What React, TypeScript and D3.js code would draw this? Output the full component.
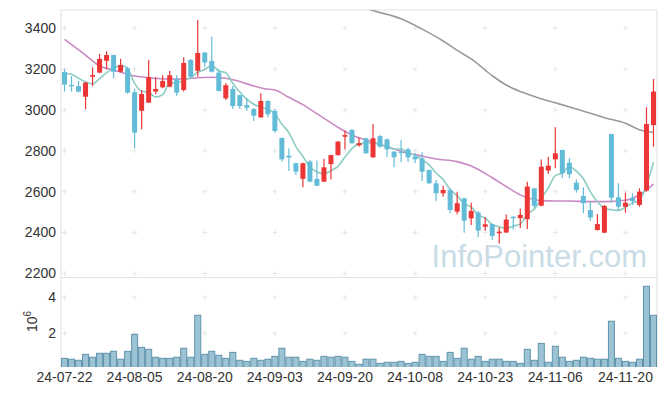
import React from "react";
import * as d3 from "d3";

// daily candles, 24-07-22 .. 24-11-26
const opens = [3186, 3123, 3117, 3065, 3163, 3183, 3241, 3269, 3187, 3204, 3087, 2996, 3036, 3090, 3111, 3114, 3152, 3098, 3245, 3192, 3281, 3240, 3183, 3057, 3103, 3073, 3024, 3005, 2964, 3044, 2995, 2863, 2776, 2739, 2663, 2747, 2662, 2649, 2735, 2779, 2869, 2902, 2827, 2861, 2768, 2872, 2856, 2796, 2796, 2807, 2772, 2763, 2706, 2641, 2592, 2608, 2502, 2567, 2469, 2498, 2428, 2441, 2396, 2400, 2477, 2470, 2465, 2616, 2531, 2703, 2758, 2804, 2742, 2644, 2579, 2510, 2412, 2399, 2882, 2572, 2526, 2570, 2535, 2605, 2926];
const highs = [3199, 3166, 3143, 3136, 3209, 3274, 3287, 3270, 3251, 3212, 3103, 3098, 3245, 3160, 3170, 3191, 3170, 3258, 3250, 3441, 3283, 3359, 3199, 3131, 3117, 3075, 3057, 3010, 3082, 3047, 3003, 2865, 2812, 2741, 2741, 2755, 2752, 2761, 2781, 2848, 2899, 2907, 2864, 2864, 2931, 2878, 2860, 2798, 2853, 2815, 2788, 2793, 2708, 2657, 2629, 2616, 2600, 2570, 2546, 2505, 2474, 2443, 2425, 2488, 2480, 2518, 2649, 2618, 2758, 2771, 2915, 2806, 2763, 2660, 2621, 2551, 2491, 2535, 2884, 2641, 2595, 2592, 2616, 3013, 3152];
const lows = [3091, 3091, 3085, 3003, 3117, 3180, 3199, 3155, 3184, 3080, 2812, 2905, 3034, 3077, 3106, 3111, 3070, 3091, 3160, 3163, 3212, 3183, 3090, 3049, 3005, 3005, 2996, 2946, 2962, 2964, 2889, 2747, 2701, 2681, 2621, 2646, 2627, 2647, 2660, 2777, 2807, 2835, 2820, 2786, 2766, 2815, 2770, 2719, 2745, 2745, 2739, 2652, 2637, 2554, 2575, 2494, 2489, 2399, 2437, 2376, 2409, 2363, 2345, 2397, 2415, 2422, 2417, 2518, 2529, 2686, 2714, 2665, 2665, 2595, 2494, 2456, 2410, 2397, 2546, 2505, 2497, 2535, 2526, 2600, 2820];
const closes = [3124, 3120, 3090, 3134, 3171, 3250, 3269, 3187, 3220, 3085, 2889, 3078, 3161, 3103, 3142, 3170, 3085, 3230, 3163, 3279, 3232, 3187, 3093, 3121, 3019, 3019, 3011, 2972, 3044, 2979, 2897, 2758, 2767, 2698, 2739, 2649, 2629, 2719, 2779, 2845, 2877, 2837, 2837, 2788, 2861, 2820, 2807, 2768, 2789, 2768, 2758, 2698, 2641, 2592, 2608, 2510, 2543, 2458, 2505, 2409, 2440, 2383, 2404, 2463, 2470, 2486, 2625, 2530, 2722, 2727, 2788, 2690, 2685, 2608, 2543, 2473, 2441, 2530, 2570, 2526, 2546, 2554, 2600, 2931, 3090];
// volume, millions of shares
const volumes = [0.61, 0.56, 0.5, 0.83, 0.67, 0.89, 0.89, 1.0, 0.56, 1.0, 1.94, 1.22, 1.11, 0.67, 0.61, 0.61, 0.67, 1.17, 0.67, 3.0, 0.83, 1.0, 0.78, 0.61, 0.94, 0.5, 0.44, 0.61, 0.5, 0.56, 0.72, 1.17, 0.67, 0.67, 0.44, 0.56, 0.5, 0.72, 0.67, 0.72, 0.67, 0.44, 0.28, 0.56, 0.56, 0.33, 0.39, 0.39, 0.44, 0.33, 0.39, 0.83, 0.72, 0.72, 0.44, 0.94, 0.61, 1.17, 0.56, 0.72, 0.44, 0.56, 0.56, 0.44, 0.44, 0.33, 1.11, 0.5, 1.44, 0.39, 1.28, 0.67, 0.44, 0.5, 0.67, 0.61, 0.56, 0.56, 2.67, 0.61, 0.44, 0.39, 0.56, 4.61, 3.0];

// moving averages
const ma5 = [3180, 3175, 3155, 3138, 3128, 3153, 3183, 3202, 3219, 3202, 3130, 3092, 3087, 3063, 3075, 3131, 3132, 3146, 3158, 3185, 3198, 3218, 3191, 3182, 3130, 3088, 3053, 3028, 3013, 3005, 2981, 2930, 2889, 2820, 2772, 2722, 2696, 2687, 2703, 2724, 2770, 2811, 2835, 2837, 2840, 2829, 2823, 2809, 2809, 2790, 2778, 2756, 2731, 2691, 2659, 2610, 2579, 2542, 2525, 2485, 2471, 2439, 2428, 2420, 2432, 2441, 2490, 2515, 2567, 2618, 2678, 2691, 2722, 2700, 2663, 2600, 2550, 2519, 2511, 2508, 2523, 2545, 2559, 2631, 2744];
const ma20Idx = [0, 3, 5, 7, 10, 12, 15, 17, 19, 21, 23, 25, 27, 28.5, 30, 32, 34, 36, 39, 41, 44, 46, 48, 51, 53, 56, 58, 61, 63, 65, 68, 70, 72, 75, 77, 80, 82, 84];
const ma20 = [3346, 3269, 3215, 3196, 3166, 3158, 3152, 3152, 3158, 3160, 3155, 3139, 3117, 3104, 3098, 3062, 3026, 2982, 2915, 2877, 2842, 2820, 2798, 2774, 2760, 2747, 2725, 2668, 2625, 2584, 2556, 2554, 2554, 2551, 2551, 2558, 2585, 2637];
const maLongIdx = [42, 44, 48, 51, 54, 56, 58, 61, 63, 65, 68, 70, 73, 75, 77, 80, 82, 84];
const maLong = [3510, 3487, 3447, 3396, 3338, 3292, 3250, 3168, 3122, 3090, 3055, 3035, 3005, 2984, 2962, 2935, 2903, 2890];

const tickIdx = [0, 10, 20, 30, 40, 50, 60, 70, 80];
const tickLabels = ["24-07-22", "24-08-05", "24-08-20", "24-09-03", "24-09-20", "24-10-08", "24-10-23", "24-11-06", "24-11-20"];
const priceTicks = [2200, 2400, 2600, 2800, 3000, 3200, 3400];
const volTicks = [2, 4];

const UP = "#ec3535";
const DOWN = "#63bcd7";
const FONT = "'Liberation Sans', Arial, sans-serif";

export default function App() {
  const left = 61, right = 657, top = 10, mid = 277.5, bottom = 367;
  const x = d3.scaleLinear().domain([-0.5, closes.length - 0.5]).range([left, right]);
  const yP = d3.scaleLinear().domain([2200, 3400]).range([273.3, 28.3]);
  const yV = d3.scaleLinear().domain([0, 4]).range([369.3, 297.3]);
  const bodyW = 5;
  const barW = x(1) - x(0);

  const line = d3.line<[number, number]>().x(d => x(d[0])).y(d => yP(d[1])).curve(d3.curveMonotoneX);
  const ma5Path = line(ma5.map((v, i) => [i, v]));
  const ma20Path = line(ma20.map((v, i) => [ma20Idx[i], v]));
  const maLongPath = line(maLong.map((v, i) => [maLongIdx[i], v]));

  const cross = (cx: number, cy: number, k: string) => (
    <g key={k} stroke="#e6e6e6" strokeWidth={1}>
      <line x1={cx - 2.5} x2={cx + 2.5} y1={cy} y2={cy} />
      <line x1={cx} x2={cx} y1={cy - 2.5} y2={cy + 2.5} />
    </g>
  );

  return (
    <div style={{ position: "absolute", left: 0, top: 0 }}>
      <svg width={665} height={396} style={{ display: "block", background: "#fff" }}>
        <defs>
          <clipPath id="pclip"><rect x={left} y={top} width={right - left} height={mid - top} /></clipPath>
          <clipPath id="vclip"><rect x={left} y={mid} width={right - left} height={bottom - mid} /></clipPath>
        </defs>

        {/* grid markers */}
        {tickIdx.map(t => priceTicks.map(p => cross(x(t), yP(p), `p${t}-${p}`)))}
        {tickIdx.map(t => volTicks.map(v => cross(x(t), yV(v), `v${t}-${v}`)))}

        {/* frame */}
        <g stroke="#e4e4e4" strokeWidth={1.2} fill="none">
          <line x1={left} x2={right} y1={top} y2={top} />
          <line x1={left} x2={right} y1={mid} y2={mid} />
          <line x1={left} x2={left} y1={top} y2={bottom} />
          <line x1={right} x2={right} y1={top} y2={bottom} />
        </g>

        {/* watermark */}
        <text x={647} y={267} textAnchor="end" fontFamily={FONT} fontSize={31} fill="#c9dce6">InfoPointer.com</text>

        {/* moving averages */}
        <g clipPath="url(#pclip)" fill="none" strokeWidth={1.6}>
          <path d={maLongPath || ""} stroke="#9a9a9a" />
          <path d={ma20Path || ""} stroke="#c98ac3" />
          <path d={ma5Path || ""} stroke="#8ccdc3" />
        </g>

        {/* candles */}
        <g clipPath="url(#pclip)">
          {closes.map((c, i) => {
            const o = opens[i];
            const col = c >= o ? UP : DOWN;
            const yt = yP(Math.max(o, c));
            const yb = yP(Math.min(o, c));
            return (
              <g key={i}>
                <line x1={x(i)} x2={x(i)} y1={yP(highs[i])} y2={yP(lows[i])} stroke={col} strokeWidth={1.2} />
                <rect x={x(i) - bodyW / 2} y={yt} width={bodyW} height={Math.max(1.5, yb - yt)} fill={col} />
              </g>
            );
          })}
        </g>

        {/* volume */}
        <g clipPath="url(#vclip)">
          {volumes.map((v, i) => (
            <rect key={i} x={x(i) - barW / 2 + 0.5} y={yV(v)} width={barW - 1} height={bottom - yV(v) + 2}
              fill="#9cc3d3" stroke="#5f93ad" strokeWidth={1} />
          ))}
        </g>

        {/* axis labels */}
        <g fontFamily={FONT} fontSize={14} fill="#333">
          {priceTicks.map(p => (
            <text key={p} x={56} y={yP(p) + 5} textAnchor="end">{p}</text>
          ))}
          {volTicks.map(v => (
            <text key={v} x={56} y={yV(v) + 5} textAnchor="end">{v}</text>
          ))}
          {tickIdx.map((t, k) => (
            <text key={t} x={x(t)} y={381.5} textAnchor="middle">{tickLabels[k]}</text>
          ))}
          <text transform="translate(37,332) rotate(-90)">
            10<tspan dy={-6} fontSize={10}>6</tspan>
          </text>
        </g>
      </svg>
    </div>
  );
}
